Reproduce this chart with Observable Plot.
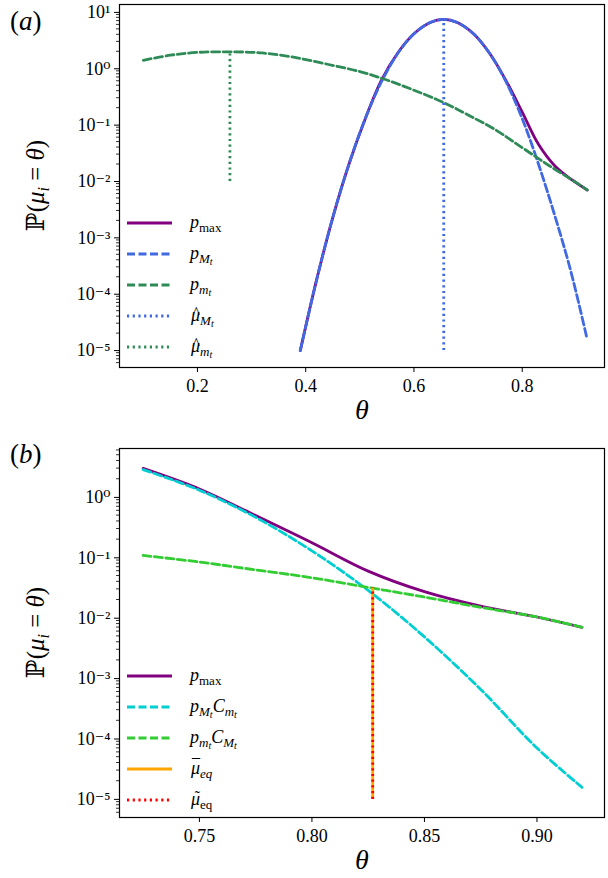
<!DOCTYPE html>
<html>
<head>
<meta charset="utf-8">
<script src="https://cdn.jsdelivr.net/npm/d3@7"></script>
<script src="https://cdn.jsdelivr.net/npm/@observablehq/plot@0.6"></script>
<style>
body { margin: 0; background: #fff; }
svg { display: block; }
</style>
</head>
<body>
<div id="chart"></div>
<script>
// ---- panel (a) data, log10 values ----
const thetaMA = [0.39, 0.42, 0.45, 0.48, 0.51, 0.54, 0.57, 0.60, 0.63, 0.655, 0.68, 0.71, 0.74, 0.77, 0.80, 0.83, 0.86, 0.89, 0.92];
const logPMA   = [-5.0, -3.75, -2.64, -1.69, -0.885, -0.23, 0.27, 0.62, 0.82, 0.875, 0.82, 0.62, 0.27, -0.23, -0.885, -1.69, -2.6, -3.6, -4.8];
const logPmaxA = [-5.0, -3.75, -2.64, -1.69, -0.885, -0.2, 0.28, 0.62, 0.82, 0.875, 0.82, 0.62, 0.27, -0.21, -0.77, -1.34, -1.72, -1.96, -2.15];
const thetaMinA = [0.10, 0.15, 0.20, 0.26, 0.32, 0.38, 0.44, 0.50, 0.55, 0.60, 0.655, 0.70, 0.75, 0.80, 0.85, 0.90, 0.92];
const logPminA  = [0.15, 0.24, 0.29, 0.30, 0.28, 0.20, 0.08, -0.05, -0.2, -0.38, -0.6, -0.82, -1.08, -1.4, -1.72, -2.02, -2.15];
const muHatM = 0.655, muHatMTop = 0.875;
const muHatm = 0.26, muHatmTop = 0.30, muHatmBottom = -2;

// ---- panel (b) data ----
const thetaB   = [0.725, 0.75, 0.775, 0.80, 0.825, 0.85, 0.875, 0.90, 0.92];
const logPmaxB = [0.48, 0.14, -0.3, -0.75, -1.22, -1.56, -1.80, -1.98, -2.15];
const logPMCB  = [0.46, 0.12, -0.33, -0.885, -1.54, -2.31, -3.18, -4.15, -4.8];
const logPmCB  = [-0.96, -1.07, -1.2, -1.33, -1.49, -1.65, -1.82, -1.98, -2.15];
const muEq = 0.827, muEqTop = -1.5;

const decades = [-5, -4, -3, -2, -1, 0, 1];
const supers = {"-": "⁻", "0": "⁰", "1": "¹", "2": "²", "3": "³", "4": "⁴", "5": "⁵"};
const fmtPow = v => "10" + String(Math.round(Math.log10(v))).split("").map(c => supers[c]).join("");

const pts = (xs, ls) => xs.map((x, i) => ({x, y: Math.pow(10, ls[i])}));
const minor = [];
for (const d of [-6, -5, -4, -3, -2, -1, 0, 1]) for (let k = 2; k <= 9; k++) minor.push(k * Math.pow(10, d));

const DASH = "8,3.5", DOT = "2.2,3.5";
const LW = 2.8;
const serif = "'Liberation Serif', 'DejaVu Serif', serif";

function panel(opts) {
  const yTicks = decades.map(d => Math.pow(10, d)).filter(v => v >= opts.yDom[0] && v <= opts.yDom[1]);
  const yMinor = minor.filter(v => v >= opts.yDom[0] && v <= opts.yDom[1]);
  const plot = Plot.plot({
    width: 608, height: opts.height,
    marginTop: opts.mt, marginBottom: opts.mb, marginLeft: 119, marginRight: 4,
    style: {fontFamily: serif, fontSize: "18px", color: "#000", background: "#fff"},
    x: {domain: opts.xDom},
    y: {type: "log", domain: opts.yDom},
    marks: [
      ...opts.marks,
      Plot.frame({stroke: "#000", strokeWidth: 1.2}),
      Plot.axisX({ticks: opts.xTicks, tickFormat: opts.xFmt, tickSize: 5, tickPadding: 7, label: null, fontSize: 18}),
      Plot.axisY({ticks: yTicks, tickFormat: fmtPow, tickSize: 5, tickPadding: 4, label: null, fontSize: 18})
    ]
  });
  const svg = d3.select(plot);
  const y = plot.scale("y");
  const plotBottom = opts.height - opts.mb;
  // minor ticks left of the frame
  svg.append("g").attr("stroke", "#000").attr("stroke-width", 0.8)
    .selectAll("line").data(yMinor).join("line")
    .attr("x1", 116).attr("x2", 119).attr("y1", d => y.apply(d)).attr("y2", d => y.apply(d));
  const tx = (sel) => sel.attr("text-anchor", "start").attr("fill", "#000");
  svg.append("text").attr("x", 362).attr("y", plotBottom + 52).attr("text-anchor", "middle")
    .attr("font-style", "italic").attr("font-size", 28).text("θ");
  svg.append("text").attr("transform", `translate(44,${opts.mt + (opts.height - opts.mt - opts.mb) / 2}) rotate(-90)`)
    .attr("text-anchor", "middle").attr("font-size", 25)
    .html("ℙ(<tspan font-style='italic'>μ</tspan><tspan font-style='italic' font-size='16' dy='5'>i</tspan><tspan dy='-5'> = </tspan><tspan font-style='italic'>θ</tspan>)");
  svg.append("text").call(tx).attr("x", 10).attr("y", opts.labelY).attr("font-size", 27)
    .html("(<tspan font-style='italic'>" + opts.label + "</tspan>)");
  // legend
  const lg = svg.append("g").attr("font-size", 18);
  opts.legend.forEach((e, i) => {
    const yy = opts.legY + i * opts.legStep;
    lg.append("line").attr("x1", 127).attr("x2", 172).attr("y1", yy).attr("y2", yy)
      .attr("stroke", e.color).attr("stroke-width", LW).attr("stroke-dasharray", e.dash || null);
    lg.append("text").call(tx).attr("x", 190).attr("y", yy + 5).html(e.html);
  });
  return plot;
}

const lineOf = (data, color, dash) => Plot.line(data, {x: "x", y: "y", stroke: color, strokeWidth: LW, strokeDasharray: dash, curve: "catmull-rom"});
const sub = (s) => `<tspan font-size='13' font-style='italic' dy='4'>${s}</tspan><tspan font-size='10' font-style='italic' dy='2'>t</tspan>`;
const it = (s) => `<tspan font-style='italic'>${s}</tspan>`;
// accent first, then μ pulled back underneath it
const acc = (a) => `<tspan dx='1' dy='-3' font-size='16'>${a}</tspan><tspan font-style='italic' dx='-9' dy='3'>μ</tspan>`;

const pA = panel({
  height: 439, mt: 4, mb: 72, label: "a", labelY: 30,
  xDom: [0.056, 0.952], yDom: [Math.pow(10, -5.3), Math.pow(10, 1.14)],
  xTicks: [0.2, 0.4, 0.6, 0.8], xFmt: d3.format(".1f"),
  marks: [
    lineOf(pts(thetaMA, logPmaxA), "#800080", null),
    lineOf(pts(thetaMA, logPMA), "#4169e1", DASH),
    lineOf(pts(thetaMinA, logPminA), "#2e8b57", DASH),
    Plot.ruleX([muHatM], {y1: 1e-5, y2: Math.pow(10, muHatMTop), stroke: "#4169e1", strokeWidth: LW, strokeDasharray: DOT}),
    Plot.ruleX([muHatm], {y1: Math.pow(10, muHatmBottom), y2: Math.pow(10, muHatmTop), stroke: "#2e8b57", strokeWidth: LW, strokeDasharray: DOT})
  ],
  legY: 223, legStep: 31,
  legend: [
    {color: "#800080", html: it("p") + "<tspan font-size='13' dy='4'>max</tspan>"},
    {color: "#4169e1", dash: DASH, html: it("p") + sub("M")},
    {color: "#2e8b57", dash: DASH, html: it("p") + sub("m")},
    {color: "#4169e1", dash: DOT, html: acc("^") + sub("M")},
    {color: "#2e8b57", dash: DOT, html: acc("^") + sub("m")}
  ]
});

const pB = panel({
  height: 439, mt: 9, mb: 61, label: "b", labelY: 24,
  xDom: [0.7145, 0.930], yDom: [Math.pow(10, -5.3), Math.pow(10, 0.81)],
  xTicks: [0.75, 0.80, 0.85, 0.90], xFmt: d3.format(".2f"),
  marks: [
    lineOf(pts(thetaB, logPmaxB), "#800080", null),
    lineOf(pts(thetaB, logPMCB), "#00ced1", DASH),
    lineOf(pts(thetaB, logPmCB), "#32cd32", DASH),
    Plot.ruleX([muEq], {y1: 1e-5, y2: Math.pow(10, muEqTop), stroke: "#ffa500", strokeWidth: LW}),
    Plot.ruleX([muEq], {y1: 1e-5, y2: Math.pow(10, muEqTop), stroke: "red", strokeWidth: LW, strokeDasharray: DOT})
  ],
  legY: 237, legStep: 31,
  legend: [
    {color: "#800080", html: it("p") + "<tspan font-size='13' dy='4'>max</tspan>"},
    {color: "#00ced1", dash: DASH, html: it("p") + sub("M") + "<tspan font-style='italic' dy='-6'>C</tspan>" + sub("m")},
    {color: "#32cd32", dash: DASH, html: it("p") + sub("m") + "<tspan font-style='italic' dy='-6'>C</tspan>" + sub("M")},
    {color: "#ffa500", html: acc("¯") + "<tspan font-size='13' font-style='italic' dy='4'>eq</tspan>"},
    {color: "red", dash: DOT, html: acc("˜") + "<tspan font-size='13' dy='4'>eq</tspan>"}
  ]
});

document.getElementById("chart").append(pA, pB);
</script>
</body>
</html>
